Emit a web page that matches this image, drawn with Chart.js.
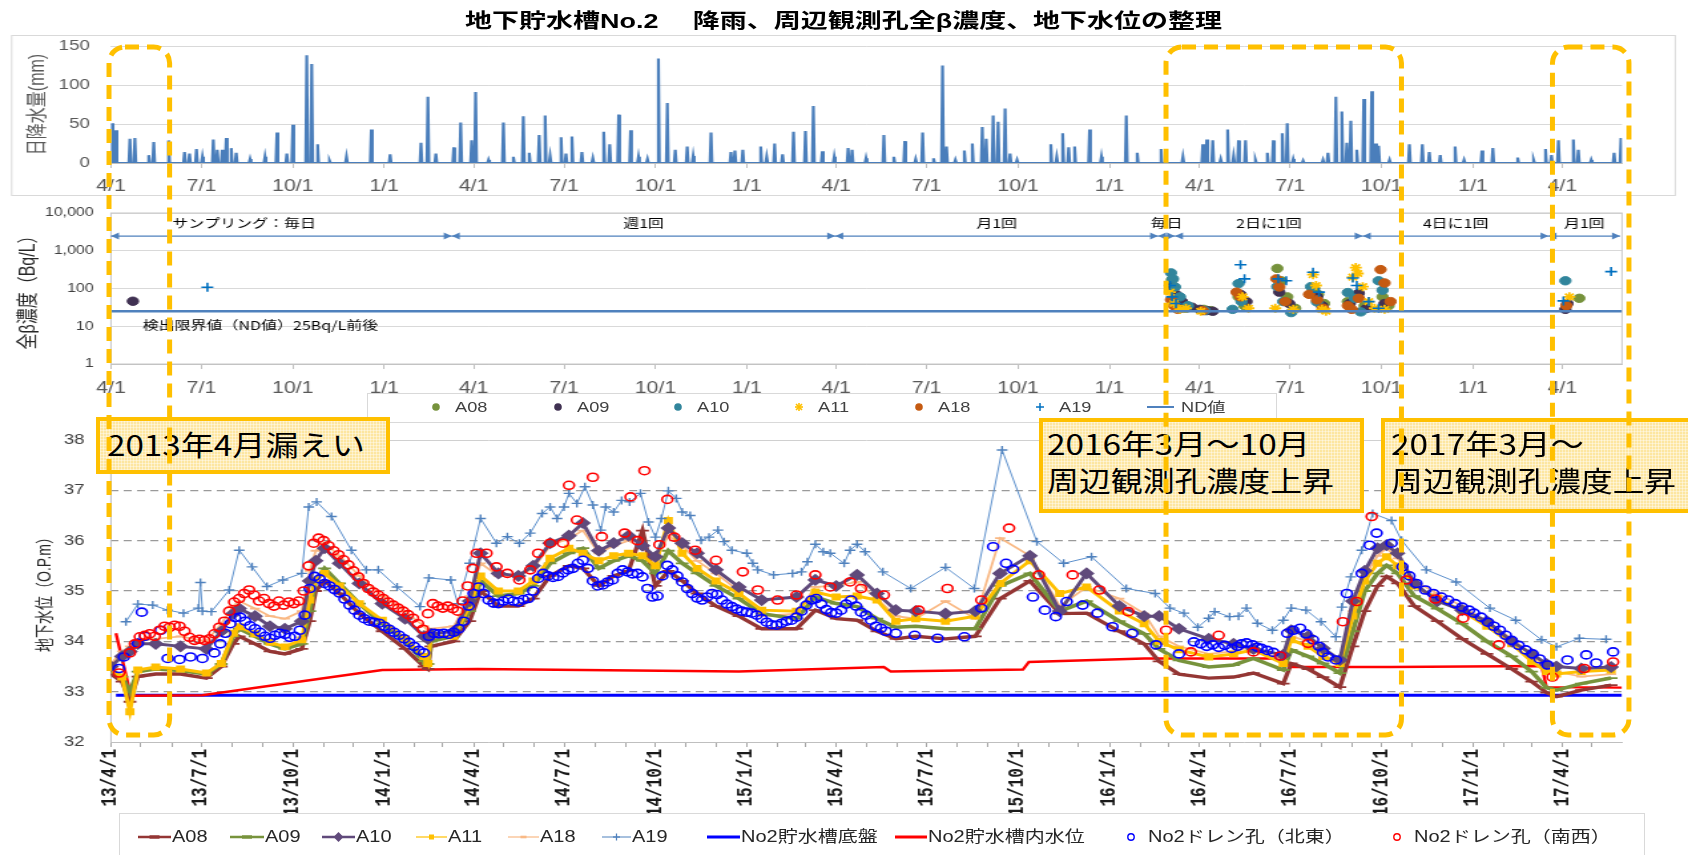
<!DOCTYPE html>
<html lang="ja">
<head>
<meta charset="utf-8">
<title>地下貯水槽No.2 降雨、周辺観測孔全β濃度、地下水位の整理</title>
<script src="https://cdn.jsdelivr.net/npm/chart.js@4.4.1/dist/chart.umd.min.js"></script>
<style>
  html, body { margin: 0; padding: 0; background: #fff; }
  body { position: relative; width: 1688px; height: 855px; overflow: hidden;
         font-family: 'Liberation Sans', 'Noto Sans CJK JP', sans-serif; }
  canvas.plot { position: absolute; left: 0; top: 0; z-index: 1; }
  #marks { position: absolute; left: 0; top: 0; z-index: 5; }
  .fit { position: absolute; white-space: nowrap; transform-origin: 0 50%; line-height: 1; display: inline-block; }
  #title { font-weight: bold; font-size: 20px; color: #000; z-index: 2; }
  .legend { position: absolute; border: 1px solid #d9d9d9; box-sizing: border-box; z-index: 2; }
  .mk { position: absolute; z-index: 3; overflow: visible; }
  .lgtext { z-index: 3; }
  .note { position: absolute; z-index: 3; box-sizing: border-box; border: 4px solid #ffc000;
          background-color: #fde6a0;
          background-image: linear-gradient(rgba(255,255,255,.4) 1px, transparent 1px),
                            linear-gradient(90deg, rgba(255,255,255,.4) 1px, transparent 1px);
          background-size: 3px 3px; }
  .notetext { font-family: 'Noto Sans CJK JP', sans-serif; font-size: 28px; color: #000; z-index: 4; }
</style>
</head>
<body>
<div id="title" class="fit" data-w="757" style="left:465px;top:11px;">地下貯水槽No.2　 降雨、周辺観測孔全β濃度、地下水位の整理</div>

<canvas id="rain" class="plot" width="1269" height="855" style="width:1688px;height:855px;"></canvas>
<canvas id="beta" class="plot" width="1269" height="855" style="width:1688px;height:855px;"></canvas>
<canvas id="level" class="plot" width="1269" height="855" style="width:1688px;height:855px;"></canvas>

<div class="legend" style="left:367px;top:393px;width:910px;height:30px;"></div>
<div class="legend" style="left:119px;top:813px;width:1526px;height:60px;"></div>
<div id="legendItems"></div>

<div class="note" style="left:96px;top:417px;width:294px;height:57px;"></div>
<div class="note" style="left:1039px;top:418px;width:325px;height:95px;"></div>
<div class="note" style="left:1381px;top:418px;width:330px;height:95px;"></div>
<div class="fit notetext" data-w="258" style="left:107px;top:430px;">2013年4月漏えい</div>
<div class="fit notetext" data-w="263" style="left:1047px;top:429px;">2016年3月～10月</div>
<div class="fit notetext" data-w="287" style="left:1047px;top:466px;">周辺観測孔濃度上昇</div>
<div class="fit notetext" data-w="193" style="left:1391px;top:429px;">2017年3月～</div>
<div class="fit notetext" data-w="285" style="left:1391px;top:466px;">周辺観測孔濃度上昇</div>

<canvas id="marks" width="1688" height="855"></canvas>

<script>
// ---------------------------------------------------------------------------
// Daily rainfall events: day count from 2013-04-01 and rainfall in mm
// ---------------------------------------------------------------------------
const rainDay = [1,5,19,24,38,43,58,74,79,86,92,103,107,112,116,121,126,140,155,167,
  177,183,197,202,208,220,237,262,281,312,319,327,345,352,363,367,380,395,405,415,
  421,431,437,442,453,458,464,474,485,496,502,511,523,531,540,551,560,568,580,586,
  604,624,628,636,654,660,668,676,687,699,707,716,728,742,746,760,778,788,799,810,
  817,828,837,841,850,859,867,877,881,888,893,900,905,912,946,952,958,964,970,985,
  997,1022,1033,1057,1079,1099,1103,1109,1117,1124,1130,1135,1142,1152,1164,1170,1179,1184,1190,1200,
  1220,1225,1233,1239,1244,1248,1254,1261,1269,1273,1276,1287,1307,1320,1327,1338,1353,1362,1380,1391,
  1416,1432,1444,1450,1457,1472,1477,1490,1513,1520];
const rainMm = [51,42,31,32,10,27,29,14,12,18,8,30,17,17,32,19,13,5,8,39,
  12,49,138,127,24,3,8,43,11,26,85,12,20,52,29,91,4,52,8,60,
  13,36,61,9,33,12,34,14,6,40,24,62,42,8,5,134,77,17,21,9,
  39,14,16,17,21,8,25,11,40,41,73,15,8,19,17,6,36,8,28,5,
  39,6,125,21,4,16,25,46,31,61,53,70,12,4,24,8,38,20,21,43,
  8,61,13,18,8,24,30,29,5,43,9,29,29,4,13,29,38,51,5,3,
  4,13,85,66,26,54,17,82,92,25,22,4,24,24,14,10,21,4,16,19,
  7,4,18,10,29,30,17,4,13,32];

// ---------------------------------------------------------------------------
// Gross beta concentration (Bq/L) in the surrounding observation wells
// ---------------------------------------------------------------------------
const betaA08Dates = ['2016-03-04','2016-03-05','2016-03-08','2016-03-12','2016-03-18','2016-04-05','2016-04-12','2016-05-10','2016-05-16','2016-06-18','2016-06-22','2016-06-28','2016-07-06','2016-07-24','2016-07-29','2016-08-04','2016-08-28','2016-09-06','2016-09-14','2016-10-02','2016-10-08','2017-04-18'];
const betaA08 = [170,110,60,40,30,28,26,60,35,340,160,60,30,90,70,40,45,60,35,60,35,55];
const betaA09Dates = ['2013-04-23','2016-03-04','2016-03-08','2016-03-14','2016-03-24','2016-04-01','2016-04-08','2016-04-14','2016-05-12','2016-05-18','2016-06-20','2016-06-30','2016-07-28','2016-08-02','2016-08-30','2016-09-08','2016-09-16','2016-10-04','2017-04-04','2017-04-06'];
const betaA09 = [46,110,70,45,32,28,26,25,70,45,80,40,60,35,40,75,30,40,28,40];
const betaA10Dates = ['2016-03-03','2016-03-05','2016-03-07','2016-03-12','2016-03-20','2016-04-06','2016-05-04','2016-05-10','2016-05-13','2016-06-18','2016-06-24','2016-07-02','2016-07-22','2016-07-28','2016-08-28','2016-09-04','2016-09-10','2016-09-28','2016-10-02','2017-04-04'];
const betaA10 = [260,180,110,60,35,26,28,135,45,112,45,23,112,44,78,55,24,160,90,160];
const betaA11Dates = ['2016-03-02','2016-03-06','2016-03-12','2016-03-18','2016-04-02','2016-05-14','2016-05-20','2016-06-16','2016-07-04','2016-07-24','2016-07-27','2016-08-02','2016-08-06','2016-09-02','2016-09-05','2016-09-07','2016-09-12','2016-09-18','2016-09-24','2016-10-04','2017-04-08'];
const betaA11 = [80,40,28,30,25,60,30,30,28,232,120,28,25,200,358,250,112,45,30,28,60];
const betaA18Dates = ['2016-03-03','2016-03-06','2016-03-10','2016-04-04','2016-05-08','2016-05-12','2016-06-17','2016-06-20','2016-06-26','2016-07-20','2016-07-28','2016-08-03','2016-08-28','2016-09-01','2016-09-08','2016-09-30','2016-10-04','2016-10-10','2017-04-05'];
const betaA18 = [50,35,28,26,80,60,180,110,45,70,50,30,35,28,55,317,140,45,35];
const betaA19Dates = ['2013-07-07','2016-03-02','2016-03-04','2016-03-08','2016-05-12','2016-05-16','2016-06-19','2016-06-27','2016-07-24','2016-07-30','2016-09-02','2016-09-06','2016-09-18','2016-09-28','2017-04-02','2017-05-20'];
const betaA19 = [108,120,60,40,426,180,180,160,270,80,190,120,45,30,47,280];
const ND_VALUE = 25;

// Sampling frequency periods
const samplingBounds = ['2013-04-01','2014-03-10','2015-03-31','2016-02-19','2016-03-07','2016-09-12','2017-03-18','2017-05-29'];
const samplingLabels = ['サンプリング：毎日','週1回','月1回','毎日','2日に1回','4日に1回','月1回'];
const samplingLabelAt = ['2013-08-13', null, null, null, null, null, null];

// ---------------------------------------------------------------------------
// Groundwater levels (O.P.m)
// ---------------------------------------------------------------------------
const wellDates = ['2013-04-01','2013-04-12','2013-04-20','2013-04-28','2013-05-16','2013-06-10','2013-07-06','2013-07-21','2013-08-02','2013-08-08',
  '2013-08-24','2013-09-08','2013-09-23','2013-10-10','2013-10-18','2013-10-24','2013-11-02','2013-11-17','2013-12-07','2013-12-30',
  '2014-01-22','2014-02-10','2014-02-14','2014-02-17','2014-03-12','2014-03-28','2014-04-08','2014-04-26','2014-05-16','2014-05-31',
  '2014-06-17','2014-07-06','2014-07-20','2014-08-05','2014-08-20','2014-09-04','2014-09-18','2014-10-01','2014-10-14','2014-10-28',
  '2014-11-12','2014-12-01','2014-12-24','2015-01-16','2015-02-20','2015-03-11','2015-04-01','2015-04-22','2015-05-12','2015-05-31',
  '2015-06-20','2015-07-20','2015-08-19','2015-09-13','2015-10-13','2015-11-12','2015-12-09','2016-01-11','2016-02-05','2016-02-20',
  '2016-03-11','2016-04-10','2016-05-05','2016-05-25','2016-06-24','2016-07-02','2016-07-19','2016-08-03','2016-08-20','2016-09-02',
  '2016-09-14','2016-09-27','2016-10-06','2016-10-17','2016-11-03','2016-11-26','2016-12-21','2017-01-15','2017-02-09','2017-03-01',
  '2017-03-16','2017-03-26','2017-04-20','2017-05-20'];
const levelA08 = [33.35,33.20,32.80,33.30,33.35,33.35,33.27,33.50,33.95,34.10,
  33.95,33.80,33.75,33.85,34.40,35.00,35.20,34.95,34.55,34.20,
  33.85,33.50,33.45,33.90,34.00,34.40,35.00,34.70,34.70,34.85,
  35.30,35.50,35.45,35.10,35.30,35.40,36.20,35.10,35.40,35.20,
  34.95,34.70,34.50,34.25,34.25,34.62,34.45,34.42,34.20,34.05,
  34.10,34.05,34.10,34.85,35.20,34.55,34.56,34.20,33.95,33.60,
  33.35,33.27,33.29,33.37,33.16,33.56,33.45,33.29,33.09,33.90,
  34.60,35.10,35.29,35.15,34.70,34.40,34.05,33.75,33.45,33.20,
  32.98,32.90,33.03,33.13];
const levelA09 = [33.40,33.30,33.00,33.40,33.45,33.42,33.35,33.55,34.10,34.25,
  34.10,33.95,33.85,33.95,34.60,35.20,35.45,35.15,34.75,34.35,
  34.00,33.60,33.55,34.00,34.10,34.60,35.20,34.90,34.95,35.10,
  35.55,35.75,35.85,35.45,35.60,35.70,35.60,35.35,35.80,35.55,
  35.35,35.10,34.85,34.55,34.45,34.88,34.75,34.69,34.45,34.28,
  34.30,34.25,34.25,35.10,35.35,34.60,34.80,34.40,34.15,33.85,
  33.62,33.49,33.53,33.66,33.43,33.83,33.70,33.56,33.37,34.20,
  35.00,35.35,35.51,35.35,34.90,34.65,34.35,34.00,33.70,33.40,
  33.08,33.03,33.16,33.27];
const levelA10 = [33.50,33.70,33.80,33.95,33.95,33.90,33.85,34.20,34.55,34.65,
  34.50,34.30,34.25,34.40,35.20,35.60,35.85,35.55,35.15,34.75,
  34.45,34.10,34.05,34.15,34.20,34.80,35.75,35.35,35.30,35.50,
  35.95,36.10,36.35,35.80,35.95,36.10,35.90,35.68,36.25,35.95,
  35.75,35.42,35.08,34.82,34.88,35.22,35.10,35.32,34.95,34.62,
  34.60,34.55,34.60,35.35,35.70,34.60,35.35,34.70,34.50,34.50,
  34.25,34.05,33.95,33.85,33.73,34.22,34.10,33.86,33.63,34.80,
  35.40,35.85,35.91,35.75,35.15,34.80,34.62,34.40,34.00,33.75,
  33.55,33.50,33.46,33.49];
const levelA11 = [33.45,33.29,32.60,33.43,33.49,33.45,33.37,33.56,34.16,34.29,
  34.15,33.98,33.89,34.03,34.82,35.22,35.35,35.10,34.75,34.42,
  34.05,33.70,33.56,34.10,34.10,34.70,35.30,35.00,35.00,35.20,
  35.65,35.85,35.75,35.60,35.70,35.75,35.70,35.50,36.40,35.75,
  35.45,35.20,34.95,34.62,34.60,34.98,34.88,34.90,34.82,34.40,
  34.45,34.40,34.50,35.15,35.60,34.95,35.08,34.60,34.35,34.00,
  33.83,33.69,33.75,33.83,33.56,34.03,33.90,33.70,33.56,34.50,
  35.20,35.55,35.68,35.50,35.10,34.85,34.60,34.30,33.95,33.60,
  33.40,33.35,33.40,33.43];
const levelA18 = [33.55,33.80,33.90,34.00,34.05,34.10,34.00,34.35,34.70,34.80,
  34.65,34.50,34.45,34.60,35.40,35.80,35.95,35.70,35.30,34.90,
  34.60,34.30,34.20,34.25,34.30,34.90,35.55,35.30,35.30,35.45,
  35.90,36.05,36.20,35.75,35.90,36.00,35.85,35.60,36.10,35.90,
  35.60,35.35,35.00,34.50,34.55,35.08,35.10,35.18,34.85,34.50,
  34.45,34.80,34.45,36.05,35.70,34.70,35.08,34.85,34.55,34.10,
  33.90,33.75,33.80,33.90,33.60,34.10,34.00,33.75,33.55,34.60,
  35.30,35.70,35.85,35.65,35.20,34.95,34.70,34.40,34.05,33.75,
  33.45,33.40,33.30,33.35];

const a19Dates = ['2013-04-16','2013-04-28','2013-05-13','2013-05-28','2013-06-13','2013-06-28','2013-06-30','2013-07-02','2013-07-11','2013-07-29',
  '2013-08-08','2013-08-21','2013-09-05','2013-09-21','2013-10-10','2013-10-17','2013-10-25','2013-11-09','2013-11-29','2013-12-14','2013-12-26',
  '2014-01-14','2014-02-06','2014-02-15','2014-03-09','2014-03-16','2014-03-28','2014-04-08','2014-04-24','2014-05-05','2014-05-17',
  '2014-05-28','2014-06-09','2014-06-17','2014-06-24','2014-07-01','2014-07-06','2014-07-14','2014-07-22','2014-07-30','2014-08-07',
  '2014-08-12','2014-08-20','2014-08-28','2014-09-05','2014-09-16','2014-09-24','2014-10-01','2014-10-07','2014-10-14','2014-10-22',
  '2014-10-28','2014-11-05','2014-11-16','2014-11-24','2014-12-03','2014-12-09','2014-12-17',
  '2015-01-01','2015-01-07','2015-01-12','2015-01-28','2015-02-16','2015-02-25','2015-03-03','2015-03-11','2015-03-19','2015-03-26',
  '2015-04-09','2015-04-15','2015-04-22','2015-04-30','2015-05-18','2015-06-15','2015-07-20','2015-08-18','2015-09-15','2015-10-20',
  '2015-11-16','2015-12-14','2016-01-18','2016-02-16','2016-03-02','2016-03-16','2016-03-30','2016-04-10','2016-04-16','2016-05-01',
  '2016-05-10','2016-05-18','2016-05-29','2016-06-13','2016-06-24','2016-07-02','2016-07-17','2016-08-01','2016-08-16','2016-08-22',
  '2016-08-31','2016-09-11','2016-09-22','2016-10-11','2016-10-21','2016-11-15','2016-12-15','2017-01-18','2017-02-13','2017-03-11',
  '2017-03-26','2017-04-18','2017-05-15'];
const levelA19 = [34.39,34.74,34.72,34.62,34.56,34.66,35.17,34.60,34.59,35.02,
  35.81,35.48,35.09,35.22,35.35,36.67,36.77,36.48,35.81,35.42,35.42,
  35.08,34.69,35.26,35.22,34.75,35.55,36.44,35.95,36.08,35.95,
  36.15,36.54,36.67,36.44,36.67,36.94,36.74,37.07,36.71,36.21,
  36.67,36.57,36.80,36.77,36.94,36.37,36.07,36.44,36.99,36.84,
  36.57,36.50,36.01,36.07,36.21,35.98,35.81,
  35.75,35.55,35.42,35.32,35.35,35.38,35.58,35.93,35.78,35.75,
  35.55,35.81,35.93,35.78,35.38,35.05,35.47,35.05,37.80,35.98,
  35.55,35.68,35.05,34.95,34.66,34.56,34.28,34.46,34.59,34.49,
  34.50,34.66,34.36,34.22,34.42,34.66,34.62,34.39,34.09,34.68,
  35.28,35.81,36.54,36.40,36.01,35.42,35.18,34.66,34.42,34.03,
  33.89,34.06,34.04];

const tankBaseDates = ['2013-04-06','2017-05-31'];
const tankBase = [32.93, 32.93];
const tankWaterDates = ['2013-04-06','2013-04-21','2013-07-02','2013-12-30','2014-04-05','2014-12-24','2015-05-19','2015-05-26','2015-10-06','2015-10-12',
  '2016-02-05','2016-06-27','2016-07-01','2016-10-10','2017-03-11','2017-03-16','2017-05-31'];
const tankWater = [34.16,32.92,32.93,33.43,33.45,33.40,33.49,33.40,33.44,33.59,
  33.66,33.66,33.49,33.49,33.51,33.09,33.08];

// Drain hole (north-east): readings on individual days ...
const drainNEDates = ['2013-04-09','2013-04-14','2013-04-28','2013-05-02','2013-05-05','2013-05-21','2013-05-28','2013-06-09','2013-06-20','2013-07-02','2013-07-14',
  '2015-05-31','2015-06-19','2015-07-12','2015-08-08','2015-08-25','2015-09-06','2015-09-19','2015-09-26','2015-10-16','2015-10-28','2015-11-08','2015-11-19','2015-12-05','2015-12-20',
  '2016-01-04','2016-01-24','2016-02-17','2016-03-11','2016-03-26','2016-04-02','2016-04-08','2016-04-14','2016-04-20','2016-04-26',
  '2016-05-03','2016-05-09','2016-05-13','2016-05-18','2016-05-24','2016-05-29','2016-06-02','2016-06-08','2016-06-14','2016-06-21',
  '2016-06-28','2016-07-04','2016-07-11','2016-07-17','2016-07-24','2016-07-30','2016-08-03','2016-08-08','2016-08-16','2016-08-27',
  '2016-09-11','2016-09-19','2016-09-26','2016-10-11','2016-10-22','2016-10-29','2016-11-05','2016-11-14','2016-11-22','2016-11-30',
  '2016-12-07','2016-12-14','2016-12-21','2016-12-28',
  '2017-01-02','2017-01-09','2017-01-16','2017-01-22','2017-01-28','2017-02-03','2017-02-09','2017-02-16','2017-02-23','2017-03-02',
  '2017-03-09','2017-03-17','2017-04-06','2017-04-25','2017-05-05','2017-05-22'];
const drainNE = [33.46,33.69,33.96,34.58,34.10,34.22,33.66,33.64,33.69,33.66,33.77,
  34.16,34.12,34.06,34.09,34.66,35.88,35.55,35.43,34.88,34.62,34.49,34.79,34.72,34.56,
  34.29,34.16,33.93,33.75,33.99,33.95,33.90,33.93,33.88,33.92,
  33.86,33.90,33.95,33.97,33.93,33.88,33.86,33.82,33.78,33.71,
  34.16,34.22,34.26,34.15,34.03,33.90,33.78,33.69,33.63,34.95,
  35.35,35.91,36.15,35.95,35.48,35.30,35.15,35.02,34.95,34.88,
  34.82,34.75,34.68,34.62,
  34.56,34.48,34.38,34.30,34.22,34.12,34.02,33.92,33.83,33.75,
  33.65,33.53,33.63,33.73,33.57,33.79];
// ... and the continuous record, one reading every 5 days from 2013-07-20
const drainNERunStart = '2013-07-20';
const drainNERunStep = 5;
const drainNERun = [33.95,34.16,34.35,34.47,34.48,34.40,34.31,34.25,34.18,34.10,34.06,34.12,34.16,34.14,34.08,34.10,34.22,34.52,35.05,35.29,
  35.24,35.15,35.10,35.03,34.96,34.84,34.72,34.62,34.52,34.45,34.40,34.38,34.36,
  34.30,34.24,34.18,34.12,34.05,33.98,33.90,33.82,33.77,34.10,34.16,34.15,34.16,34.14,34.18,34.25,34.40,34.70,
  34.95,35.08,34.95,34.82,34.76,34.75,34.80,34.84,34.80,34.78,34.83,34.85,35.00,35.25,35.35,35.30,35.27,35.29,35.36,
  35.42,35.45,35.55,35.61,35.45,35.20,35.10,35.12,35.18,35.22,35.35,35.42,35.38,35.34,35.35,35.28,35.05,34.88,
  34.90,35.30,35.51,35.42,35.30,35.18,35.05,34.95,34.86,34.82,34.88,34.95,34.93,34.82,34.74,34.69,34.64,34.60,
  34.58,34.56,34.52,34.45,34.38,34.33,34.32,34.36,34.40,34.42,34.48,34.60,34.72,34.82,34.85,34.74,34.63,34.57,
  34.56,34.62,34.74,34.82,34.70,34.58,34.52,34.42,34.30,34.26,34.20];

// Drain hole (south-west): readings on individual days ...
const drainSWDates = ['2013-04-09',
  '2014-04-04','2014-04-14','2014-04-24','2014-05-05','2014-05-17','2014-05-28','2014-06-05','2014-06-17','2014-06-30','2014-07-06',
  '2014-07-14','2014-07-30','2014-08-08','2014-08-31','2014-09-06','2014-09-13','2014-09-20','2014-10-05','2014-10-13','2014-10-20',
  '2014-11-10','2014-12-01','2014-12-28',
  '2015-01-12','2015-02-01','2015-02-20','2015-03-11','2015-03-26','2015-04-15','2015-04-26','2015-05-19','2015-06-23','2015-07-22',
  '2015-08-25','2015-09-22','2015-10-22','2015-11-25','2015-12-22',
  '2016-01-20','2016-02-27','2016-03-23','2016-04-20','2016-05-25','2016-06-21','2016-07-19','2016-08-23','2016-09-06','2016-09-21',
  '2016-10-26','2016-11-24','2016-12-22','2017-01-27','2017-03-22','2017-04-23','2017-05-22'];
const drainSW = [33.37,
  35.75,35.75,35.48,35.35,35.22,35.42,35.75,35.95,35.95,37.10,
  36.41,37.26,36.08,36.15,36.87,36.00,37.39,35.92,36.82,36.07,
  35.81,35.61,35.38,
  35.02,34.82,34.92,35.32,35.08,35.18,35.05,34.92,34.62,35.05,
  34.82,36.25,35.32,35.32,35.02,
  34.59,34.22,33.79,34.12,33.79,33.71,33.96,34.39,34.79,36.48,
  35.22,34.84,34.46,33.93,33.29,33.46,33.59];
// ... and the continuous record, one reading every 5 days from 2013-04-20
const drainSWRunStart = '2013-04-20';
const drainSWRunStep = 5;
const drainSWRun = [33.77,33.95,34.09,34.12,34.15,34.10,34.22,34.30,34.28,34.32,
  34.30,34.20,34.08,34.02,34.04,34.02,34.05,34.15,34.28,34.40,
  34.60,34.78,34.85,34.95,35.02,34.92,34.80,34.85,34.75,34.70,
  34.80,34.72,34.78,34.75,34.80,35.00,35.50,35.95,36.05,36.00,
  35.90,35.80,35.72,35.62,35.52,35.40,35.28,35.15,35.05,34.98,
  34.92,34.85,
  34.78,34.72,34.66,34.60,34.53,34.46,34.35,34.24,34.55,34.75,
  34.70,34.66,34.70,34.65,34.60,34.80,35.10,35.45];

// Axis ticks
const quarterDates = ['2013-04-01','2013-07-01','2013-10-01','2014-01-01','2014-04-01','2014-07-01','2014-10-01','2015-01-01','2015-04-01',
  '2015-07-01','2015-10-01','2016-01-01','2016-04-01','2016-07-01','2016-10-01','2017-01-01','2017-04-01'];
const shortTickLabels = ['4/1','7/1','10/1','1/1','4/1','7/1','10/1','1/1','4/1','7/1','10/1','1/1','4/1','7/1','10/1','1/1','4/1'];
const longTickLabels = ['13/4/1','13/7/1','13/10/1','14/1/1','14/4/1','14/7/1','14/10/1','15/1/1','15/4/1','15/7/1','15/10/1',
  '16/1/1','16/4/1','16/7/1','16/10/1','17/1/1','17/4/1'];

// Periods of concern, outlined across all three panels
const concernPeriods = [['2013-03-30','2013-05-30'], ['2016-02-27','2016-10-21'], ['2017-03-22','2017-06-07']];

// ---------------------------------------------------------------------------
// Layout: the chart layers are drawn on a narrower canvas and stretched wide
// ---------------------------------------------------------------------------
const LW = 1269;
const S = 1688 / LW;
const PLOT_L = 111 / S;
const PLOT_R = 1622 / S;
const PAD_R = LW - PLOT_R;

const ORIGIN = Date.UTC(2013, 3, 1);
function dn(s) {
  const [y, m, d] = s.split('-').map(Number);
  return Math.round((Date.UTC(y, m - 1, d) - ORIGIN) / 864e5);
}
const X_MIN = dn('2013-04-01');
const X_MAX = dn('2017-05-31');
const pts = (dates, vals) => dates.map((d, i) => ({ x: dn(d), y: vals[i] }));
const runPts = (start, step, vals) => vals.map((v, i) => ({ x: dn(start) + i * step, y: v }));

const quarterDays = quarterDates.map(dn);
const shortLabel = new Map(quarterDays.map((d, i) => [d, shortTickLabels[i]]));
const longLabel = new Map(quarterDays.map((d, i) => [d, longTickLabels[i]]));
const monthDays = [];
for (let y = 2013, m = 4; y < 2017 || (y === 2017 && m <= 5);) {
  monthDays.push(dn(`${y}-${String(m).padStart(2, '0')}-01`));
  if (++m > 12) { m = 1; y++; }
}

// Rain spikes: each event rises from and returns to the zero baseline
const rainPoints = [{ x: X_MIN, y: 0 }];
rainDay.forEach((d, i) => {
  const last = rainPoints[rainPoints.length - 1].x;
  if (d - 1 > last) rainPoints.push({ x: d - 1, y: 0 });
  rainPoints.push({ x: d, y: rainMm[i] });
  const next = i + 1 < rainDay.length ? rainDay[i + 1] : Infinity;
  if (d + 1 < next) rainPoints.push({ x: d + 1, y: 0 });
});
if (rainPoints[rainPoints.length - 1].x < X_MAX) rainPoints.push({ x: X_MAX, y: 0 });

Chart.defaults.font.family = "'Liberation Sans', 'Noto Sans CJK JP', sans-serif";
Chart.defaults.animation = false;
Chart.defaults.events = [];
Chart.defaults.plugins.legend.display = false;
Chart.defaults.plugins.tooltip.enabled = false;

function quarterAxis(height, pad) {
  return {
    type: 'linear', min: X_MIN, max: X_MAX, bounds: 'data',
    afterBuildTicks: s => { s.ticks = quarterDays.map(v => ({ value: v })); },
    ticks: { autoSkip: false, maxRotation: 0, minRotation: 0, color: '#595959', font: { size: 16 }, padding: pad,
             callback: v => shortLabel.get(v) ?? '' },
    grid: { drawOnChartArea: false, drawTicks: true, tickLength: 5, color: '#bfbfbf' },
    border: { color: '#bfbfbf' },
    afterFit: s => { s.height = height; }
  };
}

// Light frame around the rainfall panel
const rainFrame = {
  id: 'rainFrame',
  beforeDraw(chart) {
    const ctx = chart.ctx;
    ctx.save();
    ctx.strokeStyle = '#d9d9d9';
    ctx.lineWidth = 1;
    ctx.strokeRect(8.8, 35.5, 1259.4 - 8.8, 160);
    ctx.restore();
  }
};

// Plot border for the concentration panel
const betaBorder = {
  id: 'betaBorder',
  beforeDatasetsDraw(chart) {
    const { ctx, chartArea: a } = chart;
    ctx.save();
    ctx.strokeStyle = '#c8c8c8';
    ctx.lineWidth = 1;
    ctx.strokeRect(a.left, a.top, a.right - a.left, a.bottom - a.top);
    ctx.restore();
  }
};

function arrowHead(ctx, x, y, dir) {
  ctx.beginPath();
  ctx.moveTo(x, y);
  ctx.lineTo(x - dir * 6, y - 3.5);
  ctx.lineTo(x - dir * 6, y + 3.5);
  ctx.closePath();
  ctx.fill();
}

// Sampling-frequency arrows and the detection-limit note
const SAMPLING_LEVEL = 2450;
const SAMPLING_TEXT_LEVEL = 5400;
const ND_TEXT_LEVEL = 10.8;
const samplingNotes = {
  id: 'samplingNotes',
  afterDatasetsDraw(chart) {
    const { ctx, scales: { x, y } } = chart;
    const yl = y.getPixelForValue(SAMPLING_LEVEL);
    const yt = y.getPixelForValue(SAMPLING_TEXT_LEVEL);
    ctx.save();
    ctx.strokeStyle = '#4f81bd';
    ctx.fillStyle = '#4f81bd';
    ctx.lineWidth = 1.2;
    for (let i = 0; i < samplingLabels.length; i++) {
      const a = x.getPixelForValue(dn(samplingBounds[i]));
      const b = x.getPixelForValue(dn(samplingBounds[i + 1]));
      ctx.beginPath(); ctx.moveTo(a, yl); ctx.lineTo(b, yl); ctx.stroke();
      arrowHead(ctx, a, yl, -1);
      arrowHead(ctx, b, yl, 1);
    }
    ctx.fillStyle = '#000';
    ctx.font = "12px 'Noto Sans CJK JP', sans-serif";
    ctx.textBaseline = 'middle';
    ctx.textAlign = 'center';
    for (let i = 0; i < samplingLabels.length; i++) {
      const a = x.getPixelForValue(dn(samplingBounds[i]));
      const b = x.getPixelForValue(dn(samplingBounds[i + 1]));
      const cx = samplingLabelAt[i] ? x.getPixelForValue(dn(samplingLabelAt[i])) : (a + b) / 2;
      ctx.fillText(samplingLabels[i], cx, yt);
    }
    ctx.textAlign = 'left';
    ctx.fillText('検出限界値（ND値）25Bq/L前後', x.getPixelForValue(dn('2013-05-03')), y.getPixelForValue(ND_TEXT_LEVEL));
    ctx.restore();
  }
};

// Solid top line and left axis for the groundwater panel
const levelFrame = {
  id: 'levelFrame',
  beforeDatasetsDraw(chart) {
    const { ctx, chartArea: a, scales: { y } } = chart;
    ctx.save();
    ctx.strokeStyle = '#d0d0d0';
    ctx.lineWidth = 1;
    const yt = Math.round(y.getPixelForValue(38)) + 0.5;
    ctx.beginPath(); ctx.moveTo(a.left, yt); ctx.lineTo(a.right, yt); ctx.stroke();
    ctx.strokeStyle = '#bfbfbf';
    ctx.beginPath(); ctx.moveTo(a.left, a.top); ctx.lineTo(a.left, a.bottom); ctx.stroke();
    ctx.restore();
  }
};

// ---------------------------------------------------------------------------
// Panel 1: daily rainfall
// ---------------------------------------------------------------------------
const rainChart = new Chart(document.getElementById('rain'), {
  type: 'line',
  data: { datasets: [{ label: '日降水量', data: rainPoints, borderColor: '#4a7ebb', borderWidth: 2.2,
                       pointRadius: 0, tension: 0, fill: false }] },
  options: {
    responsive: false,
    layout: { padding: { left: 15, right: PAD_R, top: 46, bottom: 660 } },
    scales: {
      x: quarterAxis(32, 9),
      y: { min: 0, max: 150,
           ticks: { stepSize: 50, color: '#595959', font: { size: 14 }, padding: 16 },
           grid: { color: '#d9d9d9', drawTicks: false }, border: { display: false },
           title: { display: true, text: '日降水量(mm)', color: '#595959', font: { size: 16 } },
           afterFit: s => { s.width = PLOT_L - 15; } }
    }
  },
  plugins: [rainFrame]
});

// ---------------------------------------------------------------------------
// Panel 2: gross beta concentration (log scale)
// ---------------------------------------------------------------------------
const dot = (label, dates, vals, color, style, r, bw, order) => ({
  label, data: pts(dates, vals), showLine: false, order,
  pointStyle: style, pointRadius: r, pointBorderWidth: bw,
  pointBackgroundColor: color, pointBorderColor: color
});
const betaChart = new Chart(document.getElementById('beta'), {
  type: 'scatter',
  data: { datasets: [
    { label: 'ND値', data: [{ x: X_MIN, y: ND_VALUE }, { x: X_MAX, y: ND_VALUE }], showLine: true,
      borderColor: '#4f81bd', borderWidth: 2.6, pointRadius: 0, order: 0 },
    dot('A19', betaA19Dates, betaA19, '#0070c0', 'cross', 4.5, 1.6, 1),
    dot('A11', betaA11Dates, betaA11, '#ffc000', 'star', 4.5, 1.8, 2),
    dot('A18', betaA18Dates, betaA18, '#c55a11', 'circle', 4.2, 1, 3),
    dot('A10', betaA10Dates, betaA10, '#31859c', 'circle', 4.2, 1, 4),
    dot('A09', betaA09Dates, betaA09, '#403152', 'circle', 4.2, 1, 5),
    dot('A08', betaA08Dates, betaA08, '#76923c', 'circle', 4.2, 1, 6)
  ] },
  options: {
    responsive: false,
    layout: { padding: { left: 8.2, right: PAD_R, top: 213, bottom: 461 } },
    scales: {
      x: quarterAxis(30, 10),
      y: { type: 'logarithmic', min: 1, max: 10000,
           afterBuildTicks: s => { s.ticks = [1, 10, 100, 1000, 10000].map(v => ({ value: v })); },
           ticks: { color: '#404040', font: { size: 12 }, padding: 13,
                    callback: v => Number(v).toLocaleString('en-US') },
           grid: { color: '#d9d9d9', drawTicks: false }, border: { display: false },
           title: { display: true, text: '全β濃度（Bq/L）', color: '#262626', font: { size: 16 } },
           afterFit: s => { s.width = PLOT_L - 8.2; } }
    }
  },
  plugins: [betaBorder, samplingNotes]
});

// ---------------------------------------------------------------------------
// Panel 3: groundwater levels
// ---------------------------------------------------------------------------
const wellLine = (label, vals, color, width, style, r, order) => ({
  label, data: pts(wellDates, vals), borderColor: color, borderWidth: width, tension: 0, order,
  pointStyle: style, pointRadius: r, pointBorderWidth: 1.8, pointBackgroundColor: color, pointBorderColor: color
});
const ring = (label, data, color, order) => ({
  label, data, showLine: false, order,
  pointStyle: 'circle', pointRadius: 4, pointBorderWidth: 1.6,
  pointBackgroundColor: 'rgba(0,0,0,0)', pointBorderColor: color
});
const levelChart = new Chart(document.getElementById('level'), {
  type: 'line',
  data: { datasets: [
    ring('No2ドレン孔（南西）', pts(drainSWDates, drainSW).concat(runPts(drainSWRunStart, drainSWRunStep, drainSWRun)), '#ff0000', 1),
    ring('No2ドレン孔（北東）', pts(drainNEDates, drainNE).concat(runPts(drainNERunStart, drainNERunStep, drainNERun)), '#0000ff', 2),
    { label: 'A19', data: pts(a19Dates, levelA19), borderColor: '#5b8fcc', borderWidth: 1, tension: 0, order: 3,
      pointStyle: 'cross', pointRadius: 4, pointBorderWidth: 1.4, pointBorderColor: '#4f81bd' },
    wellLine('A10', levelA10, '#604a7b', 3, 'rectRot', 4.8, 4),
    wellLine('A11', levelA11, '#ffc000', 3, 'rect', 3.6, 5),
    wellLine('A09', levelA09, '#77933c', 3.6, 'line', 4.8, 6),
    wellLine('A08', levelA08, '#943634', 3.4, 'line', 4.8, 7),
    wellLine('A18', levelA18, '#f9b985', 1.8, 'line', 3.8, 8),
    { label: 'No2貯水槽内水位', data: pts(tankWaterDates, tankWater), borderColor: '#ff0000', borderWidth: 2.4,
      pointRadius: 0, tension: 0, order: 9 },
    { label: 'No2貯水槽底盤', data: pts(tankBaseDates, tankBase), borderColor: '#0000ff', borderWidth: 3,
      pointRadius: 0, tension: 0, order: 10 }
  ] },
  options: {
    responsive: false,
    layout: { padding: { left: 22, right: PAD_R, top: 440, bottom: 41 } },
    scales: {
      x: { type: 'linear', min: X_MIN, max: X_MAX, bounds: 'data',
           afterBuildTicks: s => { s.ticks = monthDays.map(v => ({ value: v })); },
           ticks: { autoSkip: false, minRotation: 90, maxRotation: 90, padding: 2, color: '#1a1a1a',
                    font: { family: "'Liberation Mono', monospace", size: 16, weight: 'bold' },
                    callback: v => longLabel.get(v) ?? '' },
           grid: { drawOnChartArea: false, drawTicks: true, tickLength: 5, color: '#a6a6a6' },
           border: { color: '#bfbfbf' },
           afterFit: s => { s.height = 72; } },
      y: { min: 32, max: 38,
           ticks: { stepSize: 1, color: '#404040', font: { size: 14 }, padding: 20 },
           grid: { drawTicks: false, lineWidth: 1.2,
                   color: c => (c.tick && (c.tick.value === 32 || c.tick.value === 38)) ? 'rgba(0,0,0,0)' : '#9a9a9a' },
           border: { display: false, dash: [6, 4] },
           title: { display: true, text: '地下水位（O.P.m）', color: '#262626', font: { size: 14 } },
           afterFit: s => { s.width = PLOT_L - 22; } }
    }
  },
  plugins: [levelFrame]
});

// ---------------------------------------------------------------------------
// Legends (HTML text, SVG keys)
// ---------------------------------------------------------------------------
const NS = 'http://www.w3.org/2000/svg';
function keySvg(kind, color, w) {
  const c = 8, m = w / 2;
  const line = (sw) => `<line x1="0" y1="${c}" x2="${w}" y2="${c}" stroke="${color}" stroke-width="${sw}"/>`;
  switch (kind) {
    case 'dot': return `<circle cx="${m}" cy="${c}" r="3.8" fill="${color}"/>`;
    case 'star': return `<g stroke="${color}" stroke-width="1.6"><line x1="${m-4}" y1="${c}" x2="${m+4}" y2="${c}"/><line x1="${m}" y1="${c-4}" x2="${m}" y2="${c+4}"/><line x1="${m-3}" y1="${c-3}" x2="${m+3}" y2="${c+3}"/><line x1="${m-3}" y1="${c+3}" x2="${m+3}" y2="${c-3}"/></g>`;
    case 'plus': return `<g stroke="${color}" stroke-width="1.5"><line x1="${m-4}" y1="${c}" x2="${m+4}" y2="${c}"/><line x1="${m}" y1="${c-4}" x2="${m}" y2="${c+4}"/></g>`;
    case 'line': return line(2);
    case 'thick': return line(3);
    case 'lineDash': return line(2.6) + `<line x1="${m-5}" y1="${c}" x2="${m+5}" y2="${c}" stroke="${color}" stroke-width="3.4"/>`;
    case 'lineDiamond': return line(2.6) + `<rect x="${m-3.5}" y="${c-3.5}" width="7" height="7" fill="${color}" transform="rotate(45 ${m} ${c})"/>`;
    case 'lineSquare': return line(1.2) + `<rect x="${m-2.5}" y="${c-2.5}" width="5" height="5" fill="${color}"/>`;
    case 'thinDash': return line(1.2) + `<line x1="${m-3}" y1="${c}" x2="${m+3}" y2="${c}" stroke="${color}" stroke-width="2.6"/>`;
    case 'linePlus': return line(1) + `<g stroke="${color}" stroke-width="1.3"><line x1="${m-3.5}" y1="${c}" x2="${m+3.5}" y2="${c}"/><line x1="${m}" y1="${c-3.5}" x2="${m}" y2="${c+3.5}"/></g>`;
    case 'ring': return `<circle cx="${m}" cy="${c}" r="3.2" fill="none" stroke="${color}" stroke-width="1.4"/>`;
  }
  return '';
}
function addLegend(items, cy, size, sx, textColor) {
  const host = document.getElementById('legendItems');
  for (const it of items) {
    const w = it.x1 - it.x0;
    const svg = document.createElementNS(NS, 'svg');
    svg.setAttribute('class', 'mk');
    svg.setAttribute('width', w);
    svg.setAttribute('height', 16);
    svg.style.left = it.x0 + 'px';
    svg.style.top = (cy - 8) + 'px';
    svg.innerHTML = keySvg(it.kind, it.color, w);
    host.appendChild(svg);
    const t = document.createElement('div');
    t.className = 'fit lgtext';
    t.textContent = it.name;
    t.style.left = it.tx + 'px';
    t.style.top = (cy - size / 2) + 'px';
    t.style.fontSize = size + 'px';
    t.style.color = textColor;
    t.style.transform = `scaleX(${sx})`;
    host.appendChild(t);
  }
}
addLegend([
  { name: 'A08', kind: 'dot', color: '#76923c', x0: 428, x1: 444, tx: 455 },
  { name: 'A09', kind: 'dot', color: '#403152', x0: 550, x1: 566, tx: 577 },
  { name: 'A10', kind: 'dot', color: '#31859c', x0: 670, x1: 686, tx: 697 },
  { name: 'A11', kind: 'star', color: '#ffc000', x0: 791, x1: 807, tx: 818 },
  { name: 'A18', kind: 'dot', color: '#c55a11', x0: 911, x1: 927, tx: 938 },
  { name: 'A19', kind: 'plus', color: '#0070c0', x0: 1032, x1: 1048, tx: 1059 },
  { name: 'ND値', kind: 'line', color: '#4f81bd', x0: 1147, x1: 1174, tx: 1181 }
], 407, 14, 1.3, '#404040');
addLegend([
  { name: 'A08', kind: 'lineDash', color: '#943634', x0: 138, x1: 171, tx: 172 },
  { name: 'A09', kind: 'lineDash', color: '#77933c', x0: 230, x1: 264, tx: 265 },
  { name: 'A10', kind: 'lineDiamond', color: '#604a7b', x0: 322, x1: 355, tx: 356 },
  { name: 'A11', kind: 'lineSquare', color: '#ffc000', x0: 416, x1: 447, tx: 448 },
  { name: 'A18', kind: 'thinDash', color: '#f9b985', x0: 508, x1: 539, tx: 540 },
  { name: 'A19', kind: 'linePlus', color: '#4f81bd', x0: 602, x1: 631, tx: 632 },
  { name: 'No2貯水槽底盤', kind: 'thick', color: '#0000ff', x0: 707, x1: 740, tx: 741 },
  { name: 'No2貯水槽内水位', kind: 'thick', color: '#ff0000', x0: 895, x1: 927, tx: 928 },
  { name: 'No2ドレン孔（北東）', kind: 'ring', color: '#0000ff', x0: 1124, x1: 1138, tx: 1148 },
  { name: 'No2ドレン孔（南西）', kind: 'ring', color: '#ff0000', x0: 1390, x1: 1404, tx: 1414 }
], 837, 16, 1.25, '#262626');

// Stretch title and annotation lines to their set widths
document.querySelectorAll('[data-w]').forEach(el => {
  const w = el.getBoundingClientRect().width;
  el.style.transform = `scaleX(${Number(el.dataset.w) / w})`;
});

// ---------------------------------------------------------------------------
// Dashed outlines for the periods of concern, spanning all panels
// ---------------------------------------------------------------------------
(function drawConcernPeriods() {
  const ctx = document.getElementById('marks').getContext('2d');
  const xs = levelChart.scales.x;
  const top = rainChart.scales.y.getPixelForValue(150) + 1;
  const bottom = levelChart.scales.y.getPixelForValue(32.14);
  ctx.strokeStyle = '#ffc000';
  ctx.lineWidth = 5;
  ctx.setLineDash([14, 8]);
  for (const [a, b] of concernPeriods) {
    const x1 = xs.getPixelForValue(dn(a)) * S;
    const x2 = xs.getPixelForValue(dn(b)) * S;
    ctx.beginPath();
    ctx.roundRect(x1, top, x2 - x1, bottom - top, 16);
    ctx.stroke();
  }
})();
</script>
</body>
</html>
